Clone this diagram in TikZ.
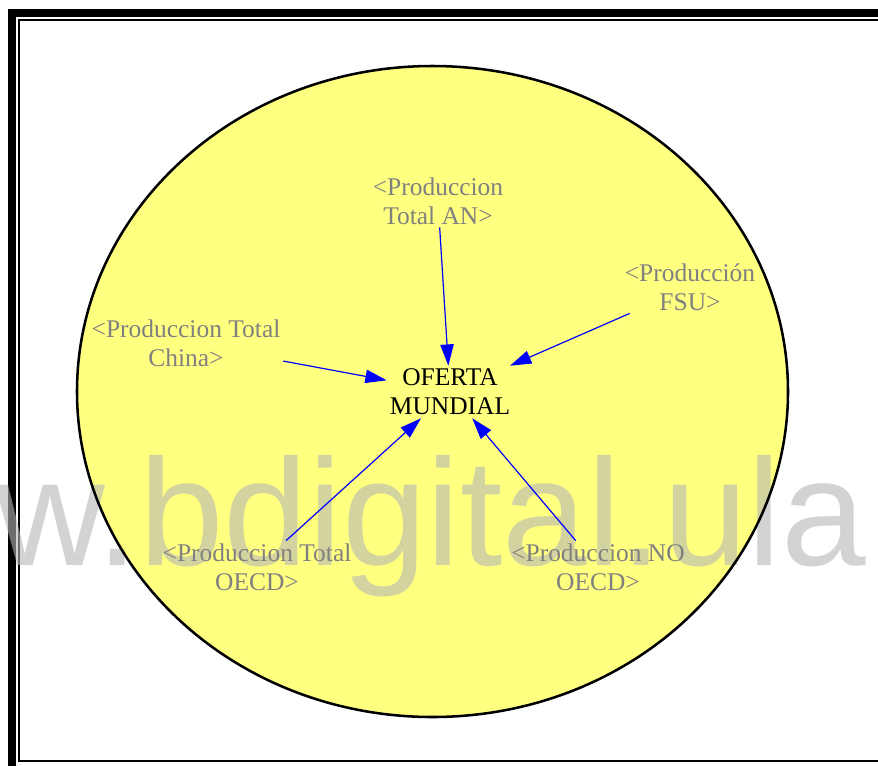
\documentclass[tikz,border=0pt]{standalone}
\usepackage{fontspec}
\setmainfont{Liberation Serif}
\newfontfamily\wmfont{Liberation Sans}
\usetikzlibrary{arrows.meta}
\definecolor{ellfill}{RGB}{255,255,128}
\definecolor{labgray}{RGB}{128,128,128}
\definecolor{wmgray}{RGB}{182,182,182}
\tikzset{
  lab/.style={align=center,text=labgray,font=\fontsize{19.1pt}{21.75pt}\selectfont,inner sep=2pt},
  mainlab/.style={align=center,text=black,font=\fontsize{19.1pt}{21.75pt}\selectfont,inner sep=2.2pt},
  link/.style={draw=blue,line width=0.9pt,-{Triangle[length=16pt,width=10pt]}},
}
\begin{document}
\begin{tikzpicture}[x=0.75pt,y=-0.75pt]
\useasboundingbox (0,0) rectangle (878,765);
\clip (0,0) rectangle (878,765);
\fill[white] (0,0) rectangle (878,765);
% frame
\draw[line width=6pt,line join=miter] (12,800) -- (12,13) -- (900,13);
\draw[line width=1.5pt,line join=miter] (900,20) -- (19,20) -- (19,761) -- (900,761);
% ellipse fill
\fill[ellfill] (432.5,391.5) ellipse [x radius=355.5, y radius=325.5];
% watermark
\node[anchor=base west,inner sep=0,text=wmgray,opacity=0.6,font=\wmfont\fontsize{114pt}{114pt}\selectfont] (wm) at (139,565) {\llap{www.}bdigital.ula};
% ellipse outline
\draw[line width=1.9pt] (432.5,391.5) ellipse [x radius=355.5, y radius=325.5];
% nodes
\node[mainlab] (of) at (450,392) {OFERTA\\MUNDIAL};
\node[lab] (an) at (438,201) {<Produccion\\Total AN>};
\node[lab] (fsu) at (690,287) {<Producción\\FSU>};
\node[lab] (ch) at (186,343) {<Produccion Total\\China>};
\node[lab] (oecd) at (257,567) {<Produccion Total\\OECD>};
\node[lab] (noecd) at (598,567) {<Produccion NO\\OECD>};
% connectors
\draw[link] (an) -- (of);
\draw[link] (fsu) -- (of);
\draw[link] (ch) -- (of);
\draw[link] (oecd) -- (of);
\draw[link] (noecd) -- (of);
\end{tikzpicture}
\end{document}
